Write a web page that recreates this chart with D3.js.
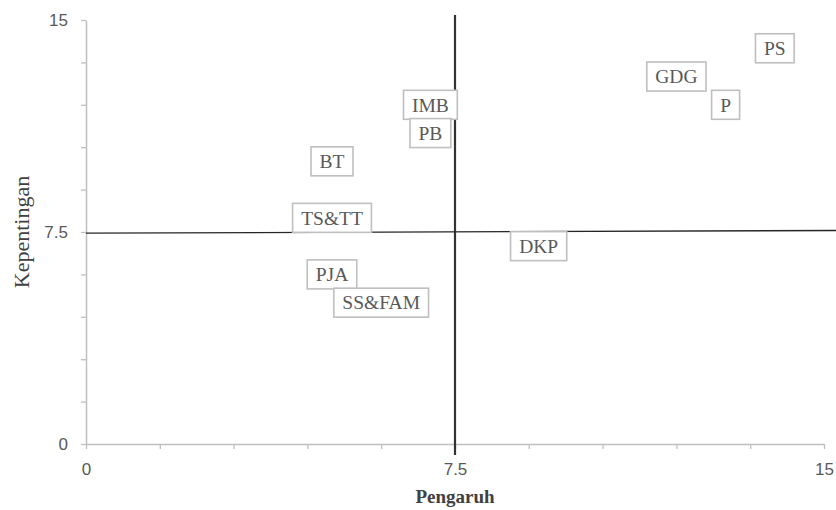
<!DOCTYPE html>
<html><head><meta charset="utf-8">
<script src="https://cdn.jsdelivr.net/npm/d3@7"></script>
<style>body{margin:0;background:#fff} .serif{font-family:"Liberation Serif","DejaVu Serif",serif}</style>
</head><body>
<svg id="c" width="836" height="510"></svg>
<script>
const labels = ["PS","GDG","P","DKP","IMB","PB","BT","TS&TT","PJA","SS&FAM"];
const pengaruh = [14, 12, 13, 9.2, 7, 7, 5, 5, 5, 6];
const kepentingan = [14, 13, 12, 7, 12, 11, 10, 8, 6, 5];
const tickValues = [0, 1.5, 3, 4.5, 6, 7.5, 9, 10.5, 12, 13.5, 15];
const tickLabels = [0, 7.5, 15];
const midValue = 7.5;

const svg = d3.select("#c");
const x = d3.scaleLinear().domain([0, 15]).range([86, 824]);
const y = d3.scaleLinear().domain([0, 15]).range([444, 20]);
const axisColor = "#bfbfbf";
const textColor = "#595959";
const fmt = d => tickLabels.includes(d) ? String(d) : "";

const xAxis = svg.append("g").attr("transform", `translate(0,${y(0)})`)
  .call(d3.axisBottom(x).tickValues(tickValues).tickSize(5).tickSizeOuter(0).tickPadding(14).tickFormat(fmt));
const yAxis = svg.append("g").attr("transform", `translate(${x(0)},0)`)
  .call(d3.axisLeft(y).tickValues(tickValues).tickSize(5).tickSizeOuter(0).tickPadding(13).tickFormat(fmt));
[xAxis, yAxis].forEach(a => {
  a.attr("font-family", "'Liberation Sans', Arial, sans-serif").attr("font-size", 17);
  a.select(".domain").attr("stroke", axisColor).attr("stroke-width", 1.5);
  a.selectAll(".tick line").attr("stroke", axisColor).attr("stroke-width", 1.3);
  a.selectAll(".tick text").attr("fill", textColor);
});

// quadrant lines
svg.append("line").attr("x1", x(midValue)).attr("x2", x(midValue))
  .attr("y1", 15).attr("y2", 455).attr("stroke", "#333").attr("stroke-width", 2.2);
svg.append("line").attr("x1", x(0)).attr("x2", 836)
  .attr("y1", y(midValue) + 1.2).attr("y2", y(midValue) - 1.5).attr("stroke", "#262626").attr("stroke-width", 1.3);

// labels
const data = labels.map((l, i) => ({l, px: pengaruh[i], ky: kepentingan[i]}));
const g = svg.append("g").selectAll("g").data(data).join("g")
  .attr("transform", d => `translate(${x(d.px)},${y(d.ky)})`);
g.append("text").text(d => d.l).attr("class", "serif")
  .attr("font-family", "Liberation Serif").attr("font-size", 19.5)
  .attr("text-anchor", "middle").attr("dy", "0.35em")
  .attr("fill", textColor);
g.each(function() {
  const t = d3.select(this).select("text").node().getBBox();
  const w = t.width + 17, h = 29;
  d3.select(this).insert("rect", "text").attr("x", -w / 2).attr("y", -h / 2)
    .attr("width", w).attr("height", h).attr("fill", "#fff")
    .attr("stroke", axisColor).attr("stroke-width", 1.6);
});

// axis titles
svg.append("text").attr("class", "serif").attr("transform", `translate(29,${y(7.5)}) rotate(-90)`)
  .attr("font-family", "Liberation Serif").attr("font-size", 22)
  .attr("text-anchor", "middle").attr("fill", "#404040")
  .text("Kepentingan");
svg.append("text").attr("class", "serif").attr("x", x(7.5)).attr("y", 503)
  .attr("font-family", "Liberation Serif").attr("font-size", 19)
  .attr("text-anchor", "middle").attr("fill", "#404040").attr("font-weight", "bold")
  .text("Pengaruh");
</script>
</body></html>
